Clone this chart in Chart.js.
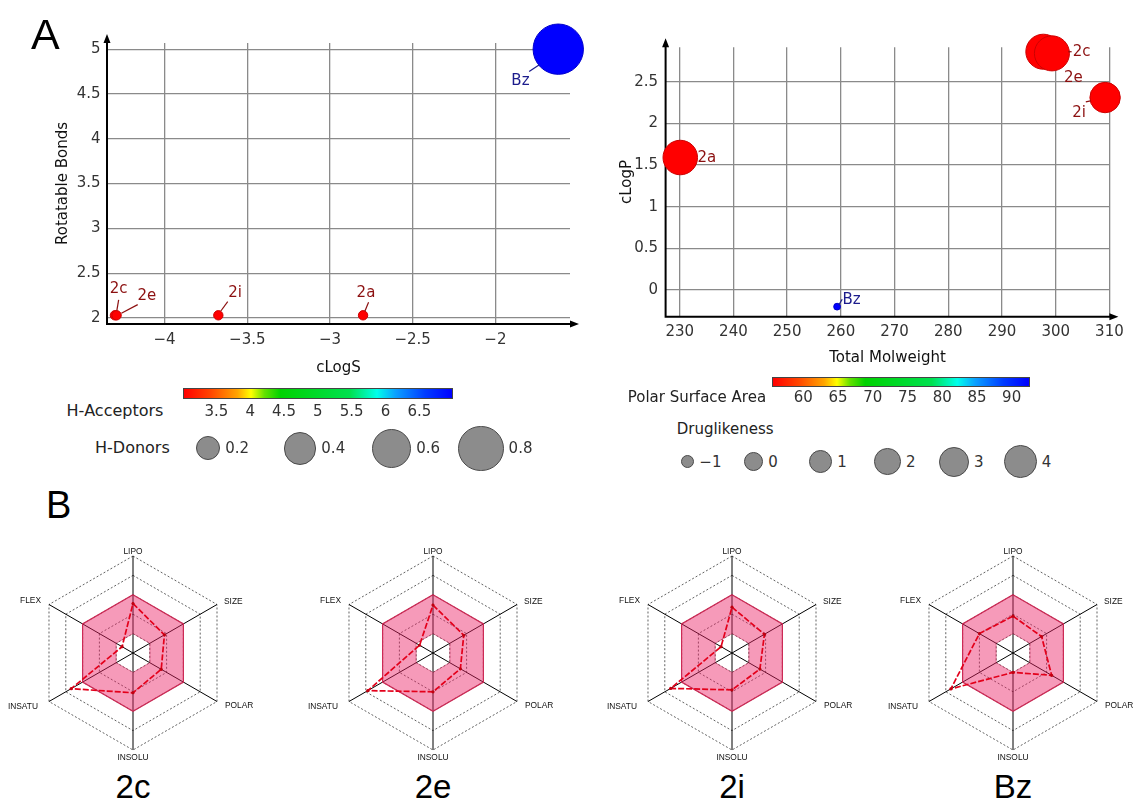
<!DOCTYPE html>
<html>
<head>
<meta charset="utf-8">
<script src="https://cdn.jsdelivr.net/npm/chart.js@4.4.1/dist/chart.umd.min.js"></script>
<style>
  html, body { margin: 0; padding: 0; background: #fff; }
  body { width: 1136px; height: 800px; position: relative; overflow: hidden; font-family: "DejaVu Sans", sans-serif; }
  canvas { position: absolute; }
  .t { position: absolute; white-space: nowrap; line-height: 1; }
</style>
</head>
<body>
<canvas id="bubbleSol" width="600" height="390" style="left:0;top:0;width:600px;height:390px"></canvas>
<canvas id="bubbleMw" width="536" height="390" style="left:600px;top:0;width:536px;height:390px"></canvas>
<script>
// ---- compound properties ----
const compounds = ['2a', '2c', '2e', '2i', 'Bz'];
const cLogS = [-2.80, -4.30, -4.29, -3.675, -1.62];
const rotatableBonds = [2.03, 2.03, 2.03, 2.03, 5.0];
const hAcceptors = [3, 3, 3, 3, 7];
const hDonors = [0, 0, 0, 0, 1];
const totalMolweight = [230.1, 297.7, 299.3, 309.2, 259.3];
const cLogP = [1.59, 2.86, 2.84, 2.31, -0.20];
const polarSurfaceArea = [55.45, 55.45, 55.45, 55.45, 92.64];
const druglikeness = [4.7, 4.9, 4.9, 3.2, -1.74];

// ---- legend scales ----
const acceptorRange = [3, 7];
const acceptorTicks = [3.5, 4, 4.5, 5, 5.5, 6, 6.5];
const donorLegend = [0.2, 0.4, 0.6, 0.8];
const psaRange = [55.45, 92.64];
const psaTicks = [60, 65, 70, 75, 80, 85, 90];
const drugLegend = [-1, 0, 1, 2, 3, 4];

// ---- bioavailability radar profiles ----
const radarAxes = ['LIPO', 'SIZE', 'POLAR', 'INSOLU', 'INSATU', 'FLEX'];
const radarNames = ['2c', '2e', '2i', 'Bz'];
const profile2c = [2.55, 1.87, 1.68, 2.05, 3.68, 0.65];
const profile2e = [2.47, 1.83, 1.63, 2.00, 3.88, 0.80];
const profile2i = [2.36, 1.93, 1.66, 1.90, 3.65, 0.65];
const profileBz = [1.90, 1.70, 2.30, 1.00, 3.70, 2.00];
const rangeUpper = [3, 3, 3, 3, 3, 3];
const rangeLower = [1, 1, 1, 1, 1, 1];

// ---- colour map (red -> yellow -> green -> cyan -> blue) ----
const cmapStops = [
  [0.00, [255, 0, 0]], [0.10, [255, 70, 0]], [0.20, [255, 165, 0]], [0.25, [255, 255, 0]],
  [0.30, [100, 225, 0]], [0.36, [0, 210, 0]], [0.62, [0, 225, 80]], [0.72, [0, 255, 235]],
  [0.79, [10, 160, 255]], [0.90, [0, 60, 255]], [1.00, [0, 0, 255]]
];
function colorAt(t, k = 1) {
  t = Math.max(0, Math.min(1, t));
  let i = 0;
  while (i < cmapStops.length - 2 && t > cmapStops[i + 1][0]) i++;
  const [t0, c0] = cmapStops[i], [t1, c1] = cmapStops[i + 1];
  const f = (t - t0) / (t1 - t0);
  const c = c0.map((v, j) => Math.round((v + (c1[j] - v) * f) * k));
  return `rgb(${c[0]},${c[1]},${c[2]})`;
}
function gradientCss() {
  return 'linear-gradient(to right,' + cmapStops.map(([t, c]) => `rgb(${c.join(',')}) ${t * 100}%`).join(',') + ')';
}
const norm = (v, [a, b]) => (v - a) / (b - a);

// bubble size encodings
const donorRadius = v => Math.sqrt(22 + 612 * v);
const drugRadius = v => Math.sqrt(Math.max(9, 89 + 44.5 * v));

const fmt = v => {
  const a = Math.round(Math.abs(v) * 100) / 100;
  return (v < 0 ? '\u2212' : '') + a;
};

Chart.defaults.font.family = '"DejaVu Sans", sans-serif';
Chart.defaults.font.size = 15;

// axis lines with arrow heads
const axisArrows = {
  id: 'axisArrows',
  beforeDatasetsDraw(chart, args, o) {
    const { ctx, chartArea: a } = chart;
    const yTip = a.top - o.over, xTip = a.right + o.over;
    ctx.save();
    ctx.strokeStyle = '#000'; ctx.fillStyle = '#000'; ctx.lineWidth = 2;
    ctx.beginPath();
    ctx.moveTo(a.left, a.bottom); ctx.lineTo(a.left, yTip + 6);
    ctx.moveTo(a.left - 1, a.bottom); ctx.lineTo(xTip - 6, a.bottom);
    ctx.stroke();
    ctx.beginPath();
    ctx.moveTo(a.left, yTip); ctx.lineTo(a.left - 3.5, yTip + 9); ctx.lineTo(a.left + 3.5, yTip + 9); ctx.closePath();
    ctx.moveTo(xTip, a.bottom); ctx.lineTo(xTip - 9, a.bottom - 3.5); ctx.lineTo(xTip - 9, a.bottom + 3.5); ctx.closePath();
    ctx.fill();
    ctx.restore();
  }
};

// compound names with short leader lines
const pointNames = {
  id: 'pointNames',
  afterDatasetsDraw(chart, args, o) {
    const ctx = chart.ctx;
    const meta = chart.getDatasetMeta(0);
    ctx.save();
    ctx.font = '15px "DejaVu Sans"';
    ctx.textAlign = 'center'; ctx.textBaseline = 'middle';
    meta.data.forEach((pt, i) => {
      const name = compounds[i];
      const L = o.place[name];
      const col = name === 'Bz' ? '#1c1c8c' : '#8c1010';
      const { x, y } = pt.getProps(['x', 'y'], true);
      if (L.line) {
        ctx.strokeStyle = col; ctx.lineWidth = 1.2;
        ctx.beginPath();
        ctx.moveTo(x + L.line[0], y + L.line[1]);
        ctx.lineTo(x + L.line[2], y + L.line[3]);
        ctx.stroke();
      }
      ctx.fillStyle = col;
      ctx.fillText(name, x + L.dx, y + L.dy);
    });
    ctx.restore();
  }
};

const gridStyle = { color: '#8a8a8a', lineWidth: 1.3, drawTicks: false };
const tickStyle = { color: '#333', font: { size: 15 } };

function bubbleChart(id, xs, ys, sizes, colorVals, cRange, o) {
  return new Chart(document.getElementById(id), {
    type: 'bubble',
    data: {
      datasets: [{
        data: compounds.map((n, i) => ({ x: xs[i], y: ys[i], r: sizes[i] })),
        backgroundColor: colorVals.map(v => colorAt(norm(v, cRange))),
        borderColor: colorVals.map(v => colorAt(norm(v, cRange), 0.8)),
        borderWidth: 1,
        clip: false
      }]
    },
    options: {
      responsive: false, animation: false, devicePixelRatio: 1,
      layout: { padding: o.padding },
      events: [],
      plugins: {
        legend: { display: false }, tooltip: { enabled: false },
        axisArrows: { over: o.over },
        pointNames: { place: o.place }
      },
      scales: {
        x: {
          type: 'linear', min: o.x[0], max: o.x[1],
          ticks: Object.assign({ stepSize: o.xStep, includeBounds: false, padding: o.xPad, maxRotation: 0, callback: fmt }, tickStyle),
          grid: gridStyle, border: { display: false },
          title: { display: true, text: o.xTitle, color: '#111', font: { size: 15 }, padding: { top: 0, bottom: o.xTitlePad } },
          afterFit: s => { s.height = o.xHeight; }
        },
        y: {
          type: 'linear', min: o.y[0], max: o.y[1],
          ticks: Object.assign({ stepSize: 0.5, includeBounds: false, padding: o.yPad, callback: fmt }, tickStyle),
          grid: gridStyle, border: { display: false },
          title: { display: true, text: o.yTitle, color: '#111', font: { size: 15 }, padding: { top: o.yTitlePad, bottom: 0 } },
          afterFit: s => { s.width = o.yWidth; }
        }
      }
    },
    plugins: [axisArrows, pointNames]
  });
}

// cLogS vs rotatable bonds (colour: H-acceptors, size: H-donors)
bubbleChart('bubbleSol', cLogS, rotatableBonds, hDonors.map(donorRadius), hAcceptors, acceptorRange, {
  padding: { left: 0, top: 43, right: 30, bottom: 0 },
  x: [-4.348, -1.549], xStep: 0.5, y: [1.933, 5.069],
  xHeight: 66, yWidth: 107, xPad: 7, yPad: 6.5, over: 9,
  xTitle: 'cLogS', yTitle: 'Rotatable Bonds', xTitlePad: 12.7, yTitlePad: 54.6,
  place: {
    '2a': { dx: 2.9, dy: -22.3, line: [1.8, -4, 5.5, -13] },
    '2c': { dx: 3.7, dy: -26.4, line: [1.9, -4.7, 3.7, -15.4] },
    '2e': { dx: 30.2, dy: -18.7, line: [4.8, -2, 21.1, -10.7] },
    '2i': { dx: 16.7, dy: -22, line: [2.5, -4.3, 9.4, -13.6] },
    'Bz': { dx: -37.8, dy: 32.4, line: [-29.1, 22.4, -19.3, 15.7] }
  }
});

// molweight vs cLogP (colour: polar surface area, size: druglikeness)
bubbleChart('bubbleMw', totalMolweight, cLogP, druglikeness.map(drugRadius), polarSurfaceArea, psaRange, {
  padding: { left: 0, top: 47.3, right: 26.6, bottom: 0 },
  x: [227.37, 310], xStep: 10, y: [-0.3205, 2.913],
  xHeight: 73.3, yWidth: 65.6, xPad: 6, yPad: 7.5, over: 9,
  xTitle: 'Total Molweight', yTitle: 'cLogP', xTitlePad: 22.7, yTitlePad: 17.7,
  place: {
    '2a': { dx: 26.5, dy: 0.6 },
    '2c': { dx: 38.3, dy: 0.6, line: [25, 0, 28.3, 0] },
    '2e': { dx: 21.4, dy: 24.6 },
    '2i': { dx: -26, dy: 15.3, line: [-19.3, 4.3, -14.6, 3.3] },
    'Bz': { dx: 14.4, dy: -6.7, line: [1.7, -1.7, 5.1, -7.4] }
  }
});

// ---- HTML legends ----
function text(str, x, y, css, align = 'left') {
  const d = document.createElement('div');
  d.className = 't';
  d.textContent = str;
  const tx = align === 'center' ? '-50%' : align === 'right' ? '-100%' : '0';
  d.style.cssText += `left:${x}px;top:${y}px;transform:translate(${tx},-50%);` + (css || '');
  document.body.appendChild(d);
  return d;
}
function box(css) {
  const d = document.createElement('div');
  d.style.cssText = 'position:absolute;box-sizing:border-box;' + css;
  document.body.appendChild(d);
  return d;
}
function colorBar(left, top, width, height, range, ticks, labelY) {
  box(`left:${left}px;top:${top}px;width:${width}px;height:${height}px;border:1px solid #444;background:${gradientCss()};`);
  ticks.forEach(v => text(String(v), left + norm(v, range) * width, labelY, 'font-size:15px;color:#333;', 'center'));
}
function sizeKey(values, radiusFn, centers, y, labelFmt) {
  values.forEach((v, i) => {
    const r = radiusFn(v);
    box(`left:${centers[i] - r}px;top:${y - r}px;width:${2 * r}px;height:${2 * r}px;border-radius:50%;background:#8c8c8c;border:1px solid #4a4a4a;`);
    text(labelFmt(v), centers[i] + r + 5, y, 'font-size:15px;color:#333;');
  });
}

text('H\u2011Acceptors', 66.4, 410.7, 'font-size:16px;color:#222;');
colorBar(182.5, 388.3, 270.7, 11, acceptorRange, acceptorTicks, 410.7);
text('H\u2011Donors', 95, 448.3, 'font-size:16px;color:#222;');
sizeKey(donorLegend, donorRadius, [208.2, 300, 391.4, 481], 448.3, v => String(v));

text('Polar Surface Area', 627.7, 397.3, 'font-size:15px;color:#222;');
colorBar(771.7, 376.7, 258.3, 10, psaRange, psaTicks, 397.3);
text('Druglikeness', 676.7, 429.3, 'font-size:15px;color:#222;');
sizeKey(drugLegend, drugRadius, [687.7, 753.7, 820.7, 887.7, 954, 1020.3], 461.7, fmt);

// panel letters
text('A', 31, 34, 'font-family:"Liberation Sans",Arial,sans-serif;font-size:43px;color:#000;');
text('B', 46, 505, 'font-family:"Liberation Sans",Arial,sans-serif;font-size:38px;color:#000;');

// ---- radar profiles ----
const axisNames = {
  id: 'axisNames',
  afterDraw(chart, args, o) {
    const s = chart.scales.r, ctx = chart.ctx;
    ctx.save();
    ctx.font = '8.4px "Liberation Sans", Arial, sans-serif';
    ctx.fillStyle = '#111';
    ctx.textBaseline = 'middle';
    chart.data.labels.forEach((lab, i) => {
      const p = s.getPointPosition(i, s.drawingArea);
      const q = o.place[i];
      ctx.textAlign = q.align;
      ctx.fillText(lab, p.x + q.dx, p.y + q.dy);
    });
    ctx.restore();
  }
};
const labelPlace = [
  { align: 'center', dx: 0, dy: -4 },
  { align: 'left', dx: 7, dy: -3 },
  { align: 'left', dx: 8, dy: 4.5 },
  { align: 'center', dx: 0, dy: 7.5 },
  { align: 'right', dx: -11, dy: 5 },
  { align: 'right', dx: -8, dy: -4 }
];
const radarProfiles = [profile2c, profile2e, profile2i, profileBz];
const radarCenters = [133, 433, 732, 1013];

radarProfiles.forEach((prof, k) => {
  const cx = radarCenters[k];
  const cv = document.createElement('canvas');
  cv.width = 266; cv.height = 226;
  cv.style.cssText = `left:${cx - 133}px;top:540px;width:266px;height:226px;`;
  document.body.appendChild(cv);
  new Chart(cv, {
    type: 'radar',
    data: {
      labels: radarAxes,
      datasets: [
        { data: prof, borderColor: '#e3001b', borderWidth: 1.7, borderDash: [6, 2],
          pointRadius: 1.6, pointBackgroundColor: '#c00010', pointBorderWidth: 0, fill: false },
        { data: rangeUpper, borderColor: '#cc2a55', borderWidth: 1.2, pointRadius: 0,
          backgroundColor: 'rgba(235,30,100,0.45)', fill: '+1' },
        { data: rangeLower, borderColor: 'rgba(190,40,80,0.55)', borderWidth: 0.8, pointRadius: 0, fill: false }
      ]
    },
    options: {
      responsive: false, animation: false, devicePixelRatio: 1, events: [],
      layout: { padding: { top: 16, bottom: 16, left: 0, right: 0 } },
      elements: { line: { tension: 0 } },
      plugins: { legend: { display: false }, tooltip: { enabled: false }, axisNames: { place: labelPlace } },
      scales: {
        r: {
          min: 0, max: 5,
          ticks: { stepSize: 1, display: false },
          grid: { color: '#3a3a3a', lineWidth: 0.8 },
          border: { dash: [2, 2] },
          angleLines: { color: '#000', lineWidth: 1 },
          pointLabels: { display: false }
        }
      }
    },
    plugins: [axisNames]
  });
  text(radarNames[k], cx, 786, 'font-family:"Liberation Sans",Arial,sans-serif;font-size:33px;color:#000;', 'center');
});
</script>
</body>
</html>
